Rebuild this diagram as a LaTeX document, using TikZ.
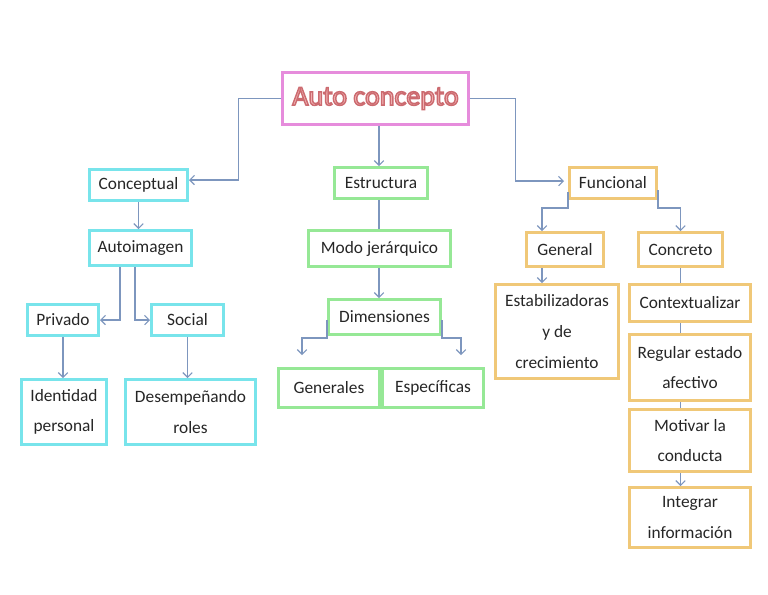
\documentclass[tikz,border=0pt]{standalone}
\usepackage{fontspec}
\setmainfont{Carlito}
\usetikzlibrary{arrows.meta,calc}
\definecolor{cyanb}{RGB}{120,228,235}
\definecolor{greenb}{RGB}{150,232,150}
\definecolor{orangeb}{RGB}{240,200,120}
\definecolor{pinkb}{RGB}{230,140,220}
\definecolor{linec}{RGB}{125,150,190}
\definecolor{titlec}{RGB}{245,185,185}
\tikzset{
  bx/.style 2 args={minimum width=#1*0.75pt-2.25pt, minimum height=#2*0.75pt-2.25pt},
  base/.style={draw, line width=2.25pt, fill=white, inner sep=0pt, align=center,
     font=\fontsize{13}{23}\selectfont, text=black!85},
  cbox/.style={base, draw=cyanb},
  gbox/.style={base, draw=greenb},
  obox/.style={base, draw=orangeb},
  conn/.style={draw=linec, line width=0.8pt},
  arr/.style={conn, -{Straight Barb[length=3.5pt,width=7pt]}},
}
\begin{document}
\begin{tikzpicture}[x=0.75pt,y=-0.75pt]
\useasboundingbox (0,0) rectangle (768,594);
% title
\node[base, draw=pinkb, line width=1.8pt, bx={189}{55},
      font=\fontsize{21}{24}\selectfont] (ac) at (375.5,98.5)
  {{\color{titlec}\special{pdf:literal 2 Tr 1.1 w 0.80 0.42 0.44 RG}Auto concepto\special{pdf:literal 0 Tr}}};
% left branch
\node[cbox, bx={101}{34}] (cc) at (138.5,185) {Conceptual};
\node[cbox, bx={105}{38}] (ai) at (140.5,248) {Autoimagen};
\node[cbox, bx={74}{34}] (pv) at (63,320) {Privado};
\node[cbox, bx={75}{34}] (so) at (187.5,320) {Social};
\node[cbox, bx={88}{68}] (id) at (64,412) {Identidad\\personal};
\node[cbox, bx={133}{68}] (de) at (190.5,412) {Desempeñando\\roles};
% middle branch
\node[gbox, bx={96}{34}] (es) at (381,183) {Estructura};
\node[gbox, bx={145}{39}] (mj) at (379.5,248.5) {Modo jerárquico};
\node[gbox, bx={115}{38}] (dm) at (384.5,317) {Dimensiones};
\node[gbox, bx={104}{42}] (gn) at (329,388) {Generales};
\node[gbox, bx={104}{42}] (ep) at (433,388) {Específicas};
% right branch
\node[obox, bx={90}{34}] (fn) at (613,183) {Funcional};
\node[obox, bx={80}{37}] (ge) at (565,249.5) {General};
\node[obox, bx={87}{37}] (co) at (680.5,249.5) {Concreto};
\node[obox, bx={126}{97}] (eb) at (557,331.5) {Estabilizadoras\\y de\\crecimiento};
\node[obox, bx={124}{40}] (cx) at (690,303) {Contextualizar};
\node[obox, bx={124}{69}] (rg) at (690,367.5) {Regular estado\\afectivo};
\node[obox, bx={124}{65}] (mv) at (690,440.5) {Motivar la\\conducta};
\node[obox, bx={124}{63}] (ig) at (690,517.5) {Integrar\\información};
% connectors
\draw[arr] (ac.west) -- ++(-43,0) |- ($(cc.east)+(0,-5)$);
\draw[arr] (cc.south) -- (cc.south |- ai.north);
\coordinate (a1) at ($(ai.south)+(-20.5,0)$);
\coordinate (a2) at ($(ai.south)+(-5.5,0)$);
\draw[arr] (a1) |- (pv.east);
\draw[arr] (a2) |- (so.west);
\draw[arr] (pv.south) -- (pv.south |- id.north);
\draw[arr] (so.south) -- (so.south |- de.north);
\coordinate (e1) at ($(ac.south)+(3.5,0)$);
\draw[arr] (e1) -- (e1 |- es.north);
\draw[conn] (e1 |- es.south) -- (e1 |- mj.north);
\draw[arr] (e1 |- mj.south) -- (e1 |- dm.north);
\coordinate (d1) at ($(dm.south west)+(0,-16)$);
\coordinate (d2) at ($(dm.south east)+(0,-16)$);
\coordinate (d3) at ($(gn.north)+(-27,-12)$);
\coordinate (d4) at ($(ep.north)+(28,-12)$);
\draw[arr] (d1) -- ++(0,18) -| (d3);
\draw[arr] (d2) -- ++(0,18) -| (d4);
\draw[arr] (ac.east) -- ++(46,0) |- ($(fn.west)+(-4,-2)$);
\coordinate (f1) at ($(fn.south west)+(0,-8)$);
\coordinate (f2) at ($(fn.south east)+(0,-10)$);
\coordinate (g1) at ($(ge.south)+(-23,0)$);
\draw[arr] (f1) -- ++(0,16) -| (g1 |- ge.north);
\draw[arr] (f2) -- ++(0,18) -| (co.north);
\draw[arr] (g1) -- (g1 |- eb.north);
\draw[conn] (co.south) -- (co.south |- cx.north);
\draw[conn] (co.south |- cx.south) -- (co.south |- rg.north);
\draw[conn] (co.south |- rg.south) -- (co.south |- mv.north);
\draw[arr] (co.south |- mv.south) -- (co.south |- ig.north);
\end{tikzpicture}
\end{document}
